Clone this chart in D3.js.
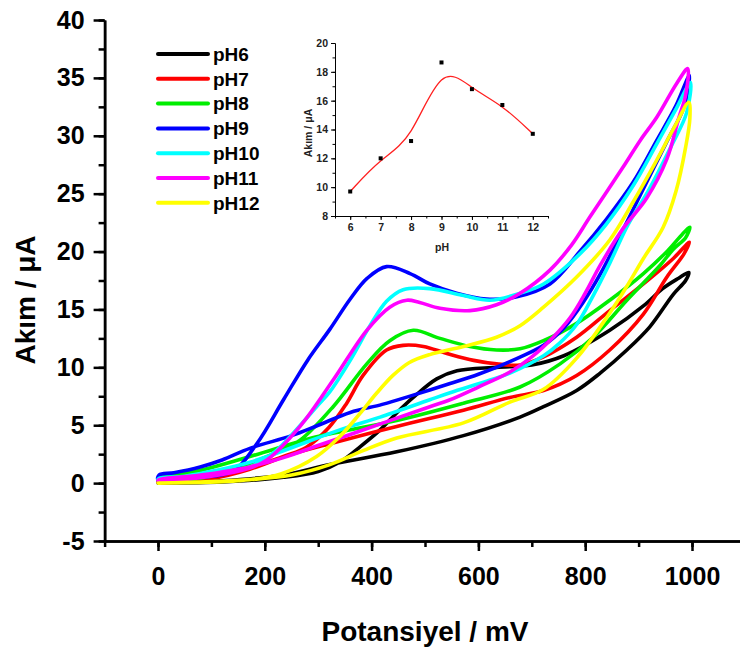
<!DOCTYPE html>
<html>
<head>
<meta charset="utf-8">
<script src="https://cdn.jsdelivr.net/npm/d3@7"></script>
<style>
  body { margin: 0; background: #fff; }
  svg { display: block; font-family: 'Liberation Sans', Arial, sans-serif; }
</style>
</head>
<body>
<div id="chart"></div>
<script>
const width = 740;
const height = 650;

const labels = ['pH6', 'pH7', 'pH8', 'pH9', 'pH10', 'pH11', 'pH12'];
const colors = ['#000000', '#ff0000', '#00ee00', '#0000ff', '#00ffff', '#ff00ff', '#ffff00'];

// each loop: [potential mV, current uA], peak branch up to 1000 mV, then back to 0
const pH6 = [
  [0, 0], [120, 0.1], [235, 0.5], [300, 1.0], [340, 1.8], [380, 3.2], [416, 4.6], [450, 6.2],
  [478, 7.4], [522, 9.0], [560, 9.7], [634, 10.0], [700, 10.2], [760, 11.0], [846, 13.2],
  [909, 15.3], [945, 16.8], [975, 17.7], [994, 18.2],
  [988, 17.5], [965, 16.3], [921, 13.5], [878, 11.5], [828, 9.5], [784, 8.0], [722, 6.6],
  [678, 5.7], [572, 4.1], [447, 2.7], [322, 1.6], [235, 0.7], [120, 0.2], [2, 0]
];
const pH7 = [
  [0, 0.1], [100, 0.4], [172, 1.2], [235, 2.3], [278, 3.1], [320, 4.8], [352, 6.8], [384, 9.3],
  [428, 11.5], [459, 11.9], [497, 11.8], [541, 11.2], [591, 10.6], [634, 10.3], [678, 10.2],
  [722, 10.9], [784, 12.6], [846, 14.9], [909, 17.2], [965, 19.4], [995, 20.8],
  [985, 19.8], [953, 17.8], [909, 14.6], [846, 11.5], [784, 9.3], [722, 8.0], [659, 7.4],
  [572, 6.3], [447, 4.9], [322, 3.4], [250, 2.5], [172, 1.4], [80, 0.6], [2, 0.2]
];
const pH8 = [
  [0, 0.2], [100, 0.6], [172, 1.7], [220, 2.6], [266, 3.7], [328, 6.6], [391, 10.3], [434, 12.3],
  [478, 13.2], [528, 12.5], [584, 11.8], [634, 11.5], [678, 11.6], [722, 12.3], [784, 13.8],
  [846, 15.8], [909, 18.1], [955, 20.1], [982, 21.5], [996, 22.1],
  [988, 21.2], [965, 20.2], [940, 18.8], [878, 15.8], [815, 12.6], [753, 10.3], [678, 8.3],
  [572, 6.9], [447, 5.4], [360, 4.6], [297, 4.0], [172, 2.3], [79, 1.1], [2, 0.4]
];
const pH9 = [
  [0, 0.3], [80, 0.5], [140, 1.0], [185, 3.4], [235, 7.2], [280, 10.6], [322, 13.3], [360, 15.9],
  [392, 17.7], [428, 18.7], [472, 18.1], [509, 17.2], [559, 16.4], [615, 15.9], [672, 16.1],
  [734, 17.2], [790, 20.0], [840, 22.8], [890, 26.0], [934, 29.6], [970, 32.6], [995, 35.2],
  [985, 32.5], [953, 29.5], [915, 26.0], [870, 21.8], [830, 18.2], [796, 15.6], [760, 13.4],
  [722, 11.9], [659, 10.5], [600, 9.4], [547, 8.6], [478, 7.6], [420, 6.8], [360, 6.1],
  [300, 5.0], [250, 4.1], [172, 3.0], [120, 2.0], [79, 1.4], [30, 0.9], [2, 0.7]
];
const pH10 = [
  [0, 0.3], [79, 0.6], [172, 1.4], [216, 2.6], [247, 4.0], [297, 6.6], [322, 7.9], [360, 10.6],
  [397, 13.6], [428, 15.7], [459, 16.7], [509, 16.8], [572, 16.2], [622, 15.8], [678, 16.4],
  [722, 17.2], [790, 19.8], [840, 22.4], [890, 25.7], [934, 29.3], [970, 32.3], [997, 34.6],
  [990, 32.0], [960, 29.0], [920, 25.4], [880, 22.3], [846, 19.0], [815, 16.2], [784, 13.7],
  [750, 12.0], [722, 11.0], [659, 9.5], [622, 8.9], [547, 7.8], [509, 7.2], [416, 5.7],
  [360, 4.9], [322, 4.3], [235, 2.8], [172, 1.8], [110, 1.1], [50, 0.6], [2, 0.4]
];
const pH11 = [
  [0, 0.2], [100, 0.6], [172, 1.3], [204, 2.0], [266, 4.9], [328, 8.9], [391, 13.2], [434, 15.2],
  [466, 15.8], [490, 15.6], [528, 15.1], [584, 14.9], [634, 15.4], [678, 16.4], [734, 18.4],
  [775, 20.6], [809, 23.0], [871, 27.3], [903, 29.6], [934, 31.6], [971, 34.5], [992, 35.8],
  [988, 33.5], [975, 31.5], [953, 28.0], [915, 24.6], [871, 22.0], [828, 18.8], [800, 16.4],
  [772, 14.3], [740, 12.6], [700, 10.9], [659, 9.6], [600, 8.3], [547, 7.2], [509, 6.6],
  [422, 5.2], [360, 4.2], [297, 3.2], [235, 2.2], [172, 1.4], [80, 0.7], [2, 0.3]
];
const pH12 = [
  [0, 0], [150, 0.2], [230, 0.8], [297, 2.3], [340, 4.0], [378, 6.0], [410, 7.8], [440, 9.3],
  [470, 10.4], [509, 11.1], [572, 11.8], [634, 12.6], [678, 13.6], [722, 15.2], [784, 17.8],
  [846, 21.0], [890, 24.3], [934, 27.9], [971, 31.1], [994, 32.9],
  [996, 31.5], [988, 29.0], [970, 25.2], [946, 22.1], [909, 19.4], [878, 17.0], [846, 14.7],
  [784, 10.8], [722, 8.1], [659, 7.0], [572, 5.2], [447, 3.9], [384, 2.8], [322, 1.6],
  [250, 0.7], [172, 0.3], [2, 0]
];
const loops = [pH6, pH7, pH8, pH9, pH10, pH11, pH12];

const xTicks = [0, 200, 400, 600, 800, 1000];
const yTicks = [-5, 0, 5, 10, 15, 20, 25, 30, 35, 40];

// inset: peak current vs pH
const insetPH = [6, 7, 8, 9, 10, 11, 12];
const insetCurrent = [9.7, 12.0, 13.2, 18.65, 16.8, 15.7, 13.7];
const insetYTicks = [8, 10, 12, 14, 16, 18, 20];

const svg = d3.select('#chart').append('svg')
  .attr('width', width)
  .attr('height', height);

const x = d3.scaleLinear().domain([-100, 1100]).range([104.6, 745.4]);
const y = d3.scaleLinear().domain([-5, 40]).range([541, 20]);
const plain = d => String(d);

const styleAxis = (g, size) => {
  g.select('.domain').attr('stroke', '#000').attr('stroke-width', 2.5);
  g.selectAll('.tick line').attr('stroke', '#000').attr('stroke-width', 2.5);
  g.selectAll('.tick text')
    .attr('font-size', size)
    .attr('font-weight', 'bold')
    .attr('fill', '#000');
};

// minor ticks first so majors sit on top
svg.append('g')
  .attr('transform', `translate(0,${y(-5)})`)
  .call(d3.axisBottom(x).tickValues(d3.range(-100, 1101, 100)).tickSizeInner(6).tickSizeOuter(0).tickFormat(''))
  .call(g => styleAxis(g, 0));
svg.append('g')
  .attr('transform', `translate(${x(-100)},0)`)
  .call(d3.axisLeft(y).tickValues(d3.range(-5, 40.1, 2.5)).tickSizeInner(6).tickSizeOuter(0).tickFormat(''))
  .call(g => styleAxis(g, 0));

svg.append('g')
  .attr('transform', `translate(0,${y(-5)})`)
  .call(d3.axisBottom(x).tickValues(xTicks).tickSizeInner(10).tickSizeOuter(0).tickPadding(16).tickFormat(plain))
  .call(g => styleAxis(g, 25));
svg.append('g')
  .attr('transform', `translate(${x(-100)},0)`)
  .call(d3.axisLeft(y).tickValues(yTicks).tickSizeInner(11).tickSizeOuter(0).tickPadding(9).tickFormat(plain))
  .call(g => styleAxis(g, 25));

svg.append('text')
  .attr('x', 425)
  .attr('y', 641)
  .attr('text-anchor', 'middle')
  .attr('font-size', 28)
  .attr('font-weight', 'bold')
  .text('Potansiyel / mV');

svg.append('text')
  .attr('transform', `translate(35,300) rotate(-90)`)
  .attr('text-anchor', 'middle')
  .attr('font-size', 28)
  .attr('font-weight', 'bold')
  .text('Akım / μA');

const line = d3.line()
  .x(d => x(d[0]))
  .y(d => y(d[1]))
  .curve(d3.curveCatmullRomClosed.alpha(0.5));

svg.append('g')
  .selectAll('path')
  .data(loops)
  .join('path')
    .attr('d', line)
    .attr('fill', 'none')
    .attr('stroke', (d, i) => colors[i])
    .attr('stroke-width', 3.6)
    .attr('stroke-linejoin', 'round');

// legend
const legend = svg.append('g')
  .selectAll('g')
  .data(labels)
  .join('g')
    .attr('transform', (d, i) => `translate(158,${54 + i * 24.8})`);
legend.append('line')
  .attr('x1', 0).attr('x2', 50)
  .attr('stroke', (d, i) => colors[i])
  .attr('stroke-width', 4)
  .attr('stroke-linecap', 'round');
legend.append('text')
  .attr('x', 55)
  .attr('dy', '0.36em')
  .attr('font-size', 19)
  .attr('font-weight', 'bold')
  .text(d => d);

// inset
const ix = d3.scaleLinear().domain([5.5, 12.5]).range([335, 548]);
const iy = d3.scaleLinear().domain([8, 20]).range([216, 43]);
const inset = svg.append('g');

const styleInset = (g, size) => {
  g.select('.domain').attr('stroke', '#000').attr('stroke-width', 1);
  g.selectAll('.tick line').attr('stroke', '#000').attr('stroke-width', 1);
  g.selectAll('.tick text')
    .attr('font-size', size)
    .attr('font-weight', 'bold')
    .attr('fill', '#222');
};

inset.append('g')
  .attr('transform', `translate(0,${iy(8)})`)
  .call(d3.axisBottom(ix).tickValues(d3.range(5.5, 12.51, 0.5)).tickSizeInner(2.5).tickSizeOuter(0).tickFormat(''))
  .call(g => styleInset(g, 0));
inset.append('g')
  .attr('transform', `translate(${ix(5.5)},0)`)
  .call(d3.axisLeft(iy).tickValues(d3.range(8, 20.1, 1)).tickSizeInner(2.5).tickSizeOuter(0).tickFormat(''))
  .call(g => styleInset(g, 0));
inset.append('g')
  .attr('transform', `translate(0,${iy(8)})`)
  .call(d3.axisBottom(ix).tickValues(insetPH).tickSizeInner(4).tickSizeOuter(0).tickPadding(4).tickFormat(plain))
  .call(g => styleInset(g, 10.5));
inset.append('g')
  .attr('transform', `translate(${ix(5.5)},0)`)
  .call(d3.axisLeft(iy).tickValues(insetYTicks).tickSizeInner(4).tickSizeOuter(0).tickPadding(3).tickFormat(plain))
  .call(g => styleInset(g, 10.5));

inset.append('text')
  .attr('x', 442)
  .attr('y', 251)
  .attr('text-anchor', 'middle')
  .attr('font-size', 10.5)
  .attr('font-weight', 'bold')
  .attr('fill', '#222')
  .text('pH');
inset.append('text')
  .attr('transform', `translate(312,133) rotate(-90)`)
  .attr('text-anchor', 'middle')
  .attr('font-size', 10.5)
  .attr('font-weight', 'bold')
  .attr('fill', '#222')
  .text('Akım / μA');

const insetData = insetPH.map((p, i) => [p, insetCurrent[i]]);
inset.append('path')
  .datum(insetData)
  .attr('d', d3.line().x(d => ix(d[0])).y(d => iy(d[1])).curve(d3.curveBasis))
  .attr('fill', 'none')
  .attr('stroke', '#ff2020')
  .attr('stroke-width', 1.3);
inset.selectAll('rect.pt')
  .data(insetData)
  .join('rect')
    .attr('class', 'pt')
    .attr('x', d => ix(d[0]) - 2)
    .attr('y', d => iy(d[1]) - 2)
    .attr('width', 4)
    .attr('height', 4)
    .attr('fill', '#000');
</script>
</body>
</html>
